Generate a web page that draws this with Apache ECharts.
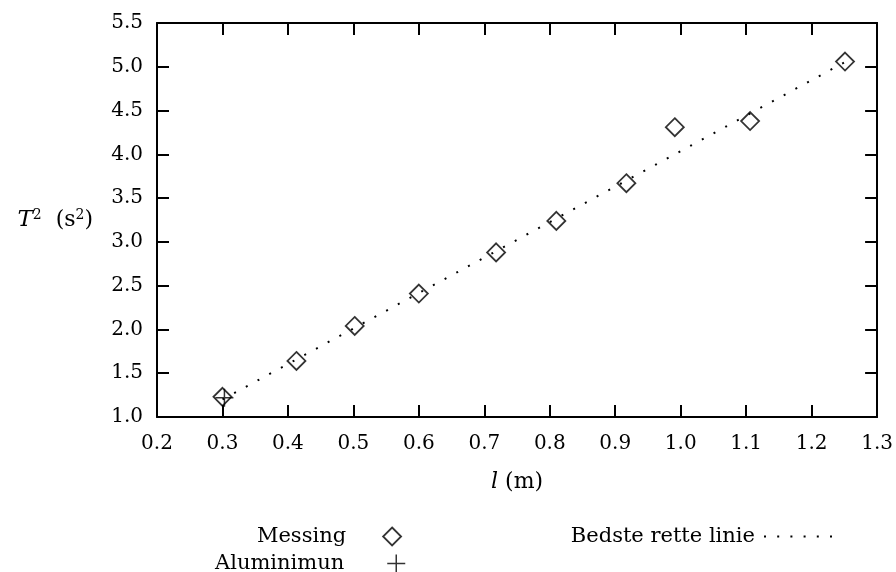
<!DOCTYPE html>
<html>
<head>
<meta charset="utf-8">
<script src="https://cdn.jsdelivr.net/npm/echarts@6/dist/echarts.min.js"></script>
<style>
  html, body { margin: 0; padding: 0; background: #fff; }
  #chart { width: 896px; height: 572px; }
</style>
</head>
<body>
<div id="chart"></div>
<script>
// data
var messingX = [0.30, 0.413, 0.502, 0.600, 0.718, 0.810, 0.917, 0.991, 1.106, 1.251];
var messingY = [1.23, 1.64, 2.04, 2.41, 2.88, 3.24, 3.67, 4.31, 4.38, 5.06];
var aluX = [0.303];
var aluY = [1.22];
// bedste rette linie (endpoints)
var fitX = [0.30, 1.25];
var fitY = [1.20, 5.05];

var xTicks = { min: 0.2, max: 1.3, step: 0.1 };
var yTicks = { min: 1.0, max: 5.5, step: 0.5 };

var FONT = "DejaVu Serif";
var plusPath = "path://M0 8H16M8 0V16";

function pairs(xs, ys) {
  return xs.map(function (x, i) { return [x, ys[i]]; });
}

var myChart = echarts.init(document.getElementById("chart"));

var axisCommon = {
  axisLine: { lineStyle: { color: "#000", width: 2 } },
  axisTick: { inside: true, length: 12, lineStyle: { color: "#000", width: 2 } },
  splitLine: { show: false },
  axisLabel: { color: "#000", fontFamily: FONT, fontSize: 20 }
};

// legend text sits 5px before the icon, so pad it to push the symbol right
function legendItem(name, right, top, gap, extra) {
  return Object.assign({
    data: [name],
    right: right, top: top,
    padding: 0, itemWidth: 18, itemHeight: 18,
    align: "right",
    symbolKeepAspect: true,
    textStyle: { color: "#000", fontFamily: FONT, fontSize: 21, padding: [0, gap, 0, 0] }
  }, extra);
}

var option = {
  animation: false,
  backgroundColor: "#fff",
  grid: { left: 157, right: 18, top: 23, bottom: 155 },
  xAxis: [
    Object.assign({}, axisCommon, {
      type: "value", position: "bottom",
      min: xTicks.min, max: xTicks.max, interval: xTicks.step,
      axisLabel: Object.assign({}, axisCommon.axisLabel, {
        margin: 17,
        formatter: function (v) { return v.toFixed(1); }
      }),
      name: "{i|l} (m)",
      nameLocation: "middle",
      nameGap: 54,
      nameTextStyle: {
        color: "#000", fontFamily: FONT, fontSize: 22,
        rich: { i: { fontFamily: FONT, fontStyle: "italic", fontSize: 22 } }
      }
    }),
    Object.assign({}, axisCommon, {
      type: "value", position: "top",
      min: xTicks.min, max: xTicks.max, interval: xTicks.step,
      axisLabel: { show: false }
    })
  ],
  yAxis: [
    Object.assign({}, axisCommon, {
      type: "value", position: "left",
      min: yTicks.min, max: yTicks.max, interval: yTicks.step,
      axisLabel: Object.assign({}, axisCommon.axisLabel, {
        margin: 14,
        formatter: function (v) { return v.toFixed(1); }
      }),
      name: "{i|T}{sup|2}  (s{sup|2})",
      nameLocation: "middle",
      nameRotate: 0,
      nameGap: 64,
      nameTextStyle: {
        color: "#000", fontFamily: FONT, fontSize: 22,
        rich: {
          i: { fontFamily: FONT, fontStyle: "italic", fontSize: 23 },
          sup: { fontFamily: FONT, fontSize: 14, verticalAlign: "top", padding: [0, 0, 10, 0] }
        }
      }
    }),
    Object.assign({}, axisCommon, {
      type: "value", position: "right",
      min: yTicks.min, max: yTicks.max, interval: yTicks.step,
      axisLabel: { show: false }
    })
  ],
  legend: [
    legendItem("Messing", 896 - 402, 526, 32, {
      itemStyle: { color: "transparent", borderColor: "#000", borderWidth: 1.8 }
    }),
    legendItem("Aluminimun", 896 - 406, 553, 38, {
      itemStyle: { color: "transparent", borderColor: "#000", borderWidth: 1.5 }
    }),
    legendItem("Bedste rette linie", 61, 526, 4, {
      itemWidth: 70, itemHeight: 16,
      itemStyle: { color: "transparent", borderWidth: 0, opacity: 0 },
      lineStyle: { color: "#000", width: 2, type: [2, 11.2], opacity: 1 }
    })
  ],
  series: [
    {
      name: "Bedste rette linie",
      type: "line",
      data: pairs(fitX, fitY),
      symbol: "none",
      silent: true,
      z: 1,
      itemStyle: { color: "#000" },
      lineStyle: { color: "#000", width: 2, type: [2, 11.3], cap: "butt" }
    },
    {
      name: "Messing",
      type: "scatter",
      data: pairs(messingX, messingY),
      symbol: "diamond",
      symbolSize: 18,
      symbolKeepAspect: true,
      z: 2,
      itemStyle: { color: "transparent", borderColor: "#000", borderWidth: 1.8 }
    },
    {
      name: "Aluminimun",
      type: "scatter",
      data: pairs(aluX, aluY),
      symbol: plusPath,
      symbolSize: 18,
      symbolKeepAspect: true,
      z: 3,
      itemStyle: { color: "transparent", borderColor: "#000", borderWidth: 1.5 }
    }
  ]
};

myChart.setOption(option);
</script>
</body>
</html>
